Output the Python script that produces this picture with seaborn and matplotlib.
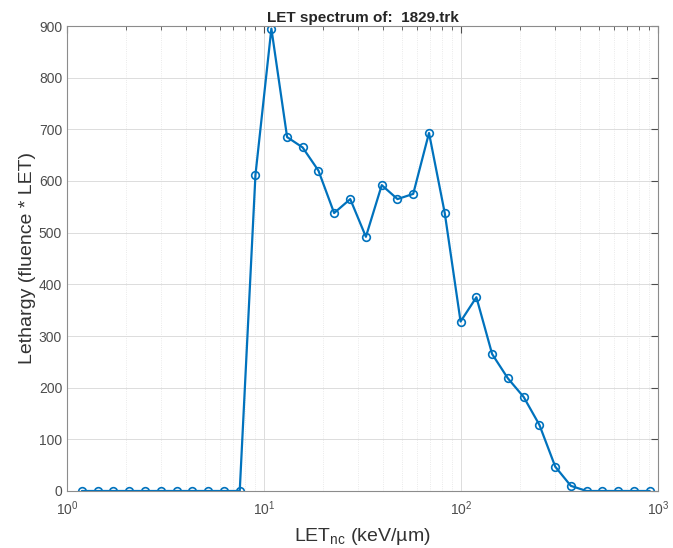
import numpy as np
import pandas as pd
import matplotlib
matplotlib.use("Agg")
import matplotlib.pyplot as plt
import seaborn as sns

# bin centres (keV/um) and lethargy values
let_nc = [1.19, 1.43, 1.72, 2.07, 2.49, 3.00, 3.60, 4.33, 5.21, 6.26,
          7.53, 9.05, 10.9, 13.1, 15.7, 18.9, 22.7, 27.4, 32.9, 39.6,
          47.6, 57.2, 68.8, 82.7, 99.5, 119.7, 143.9, 173, 208, 250,
          301, 361, 434, 522, 628, 755, 908]
lethargy = [0, 0, 0, 0, 0, 0, 0, 0, 0, 0,
            0, 612, 895, 685, 665, 620, 538, 565, 492, 592,
            565, 575, 693, 538, 328, 375, 265, 218, 182, 128,
            47, 10, 0, 0, 0, 0, 0]

df = pd.DataFrame({"let": let_nc, "lethargy": lethargy})

sns.set_style("white")
plt.rcParams["font.family"] = ["Liberation Sans", "DejaVu Sans"]

fig = plt.figure(figsize=(6.73, 5.48), dpi=100)
ax = fig.add_axes([67 / 673, 1 - 491 / 548, (658 - 67) / 673, (491 - 26) / 548])

sns.lineplot(data=df, x="let", y="lethargy", ax=ax, color="#0072BD",
             linewidth=1.6, marker="o", markersize=5.5,
             markerfacecolor="none", markeredgecolor="#0072BD",
             markeredgewidth=1.2)

ax.set_xscale("log")
ax.set_xlim(1, 1000)
ax.set_ylim(0, 900)
ax.set_yticks(range(0, 901, 100))

ax.grid(True, which="major", color="#dcdcdc", linewidth=0.7)
ax.grid(True, which="minor", axis="x", color="#e3e3e3", linewidth=0.6, linestyle=":")
ax.set_axisbelow(True)

for s in ax.spines.values():
    s.set_color("#8c8c8c")
    s.set_linewidth(0.8)
ax.tick_params(which="both", direction="in", top=True, right=True,
               colors="#4d4d4d", labelsize=10)
ax.tick_params(which="major", length=5)
ax.tick_params(which="minor", length=3)
ax.tick_params(axis="x", which="major", pad=6)

ax.set_title("LET spectrum of:  1829.trk", fontsize=11, fontweight="bold", pad=3)
ax.set_xlabel("LET$_{\\mathregular{nc}}$ (keV/µm)", fontsize=14, color="#333333",
              labelpad=6)
ax.set_ylabel("Lethargy (fluence * LET)", fontsize=14, color="#333333",
              labelpad=2)

fig.savefig("out.png", dpi=100)
